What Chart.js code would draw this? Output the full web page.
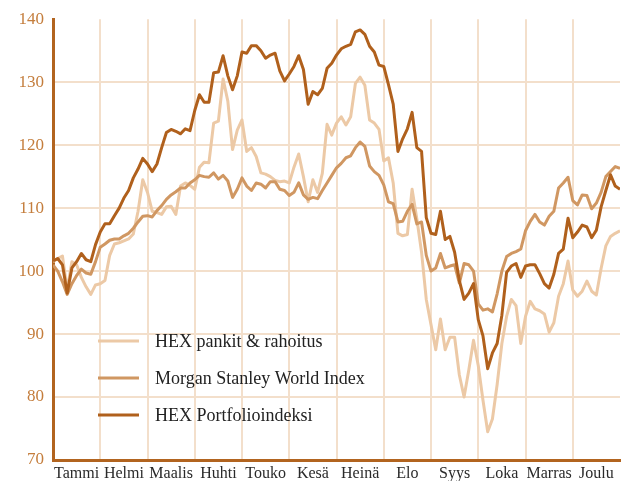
<!DOCTYPE html>
<html>
<head>
<meta charset="utf-8">
<script src="https://cdn.jsdelivr.net/npm/chart.js@4.4.1/dist/chart.umd.min.js"></script>
<style>
  body { margin: 0; background: #fff; }
</style>
</head>
<body>
<canvas id="chart" width="630" height="481"></canvas>
<script>
const months = ['Tammi', 'Helmi', 'Maalis', 'Huhti', 'Touko', 'Kesä', 'Heinä', 'Elo', 'Syys', 'Loka', 'Marras', 'Joulu'];
const yTicks = [70, 80, 90, 100, 110, 120, 130, 140];

// ~10 readings per month
const hexPankit = [
  101.5,102,102.4,97,101.5,101,99,97.5,96.3,97.8,
  98,98.5,102.5,104.3,104.5,104.8,105.1,105.9,109.5,114.5,
  112.5,109.5,109.3,109,110.2,110.3,109,113.5,114,113.6,
  113,116.5,117.3,117.2,123.5,123.8,130.5,127,119.3,122.4,
  124,119,119.6,118.2,115.6,115.4,115,114.4,114.2,114.3,
  114,116.5,118.6,115,111,114.5,112.5,115.5,123.3,121.6,
  123.5,124.5,123.2,124.5,129.8,130.8,129.5,124,123.5,122.5,
  117.5,118,114,106,105.6,105.8,113,108.3,103,95.5,
  91.5,87.5,92.4,87.5,89.5,89.5,83.5,80,84.3,89,
  85,79.5,74.5,76.5,82,88.5,92.8,95.5,94.5,88.5,
  92.8,95.2,94,93.7,93.2,90.3,91.8,96,98,101.6,
  97,96,96.8,98.4,96.8,96.2,100.4,104,105.5,106,
  106.4
];
const msWorld = [
  101,100,98.3,96.3,98,99.3,100.3,99.7,99.5,101.5,
  103.8,104.3,104.9,105.1,105.1,105.6,106,106.8,107.8,108.7,
  108.8,108.6,109.6,110.4,111.4,112.1,112.6,113.2,113.2,114,
  114.5,115.2,115,114.9,115.6,114.6,115.2,114.3,111.7,113,
  114.8,113.5,112.8,114,113.8,113.2,114.2,114.2,113,112.8,
  112,112.5,114,112.1,111.4,111.7,111.5,112.8,114,115.2,
  116.4,117.1,118,118.3,119.6,120.5,119.8,116.7,115.8,115.2,
  113.7,111,110.7,107.8,107.9,109.5,110.6,107.5,107.8,102.5,
  100,100.5,102.8,100.5,100.8,101,98.1,101.2,101,100,
  94.8,93.8,94,93.5,96.4,100,102.3,102.8,103.1,103.5,
  106.4,107.9,109,107.8,107.3,108.7,109.5,113.2,114,114.9,
  111.2,110.5,112.1,112,109.9,110.8,112.5,115,115.8,116.6,
  116.3
];
const hexPortfolio = [
  101.6,102,101,96.5,100.5,101.5,102.8,101.8,101.5,104.2,
  106.2,107.5,107.5,108.8,110,111.6,112.8,114.8,116.2,117.9,
  117,115.8,117,119.6,122,122.5,122.2,121.8,122.6,122.3,
  125.5,128,126.8,126.8,131.5,131.6,134.2,131,128.8,131,
  134.8,134.6,135.8,135.8,135,133.8,134.3,134.6,131.8,130.2,
  131.3,132.5,134.2,132,126.5,128.5,128,129,132.2,133,
  134.3,135.3,135.7,136,138,138.3,137.6,135.7,134.8,132.7,
  132.5,129.6,126.5,119,121,122.6,125.2,119.6,119,108.5,
  106,105.8,109.5,105,105.5,103,98.5,95.5,96.5,98,
  92.3,89.7,84.5,87,88.5,93,99.8,100.8,101.2,99,
  100.8,101,101,99.6,98,97.3,99.5,102.8,103.5,108.4,
  105.3,106.2,107.3,107,105.3,106.5,110.2,112.8,115.3,113.5,
  113
];

const perMonth = 10;
const lastX = months.length * perMonth;
const toPoints = arr => arr.map((v, i) => ({ x: i, y: v }));

const axisColor = '#b2641f';
const gridColor = '#f3dfcb';
const fontFamily = "'Liberation Serif', serif";

// legend drawn inside the plot, lower left
const insideLegend = {
  id: 'insideLegend',
  afterDatasetsDraw(chart) {
    const ctx = chart.ctx;
    const { left, bottom } = chart.chartArea;
    const items = [0, 1, 2].map(i => chart.data.datasets[i]);
    ctx.save();
    ctx.font = '18px ' + fontFamily;
    ctx.textBaseline = 'middle';
    items.forEach((ds, i) => {
      const y = bottom - 119 + i * 37;
      ctx.strokeStyle = ds.borderColor;
      ctx.lineWidth = 3;
      ctx.beginPath();
      ctx.moveTo(left + 45, y);
      ctx.lineTo(left + 86, y);
      ctx.stroke();
      ctx.fillStyle = '#222';
      ctx.fillText(ds.label, left + 102, y + 1);
    });
    ctx.restore();
  }
};

new Chart(document.getElementById('chart'), {
  type: 'line',
  data: {
    datasets: [
      { label: 'HEX pankit & rahoitus', data: toPoints(hexPankit), borderColor: '#ecc9a6', order: 3 },
      { label: 'Morgan Stanley World Index', data: toPoints(msWorld), borderColor: '#d09762', order: 2 },
      { label: 'HEX Portfolioindeksi', data: toPoints(hexPortfolio), borderColor: '#b0601c', order: 1 }
    ]
  },
  options: {
    responsive: false,
    animation: false,
    layout: { padding: { top: 11, right: 10, left: 0, bottom: 0 } },
    elements: {
      line: { borderWidth: 3, tension: 0, borderJoinStyle: 'round', fill: false },
      point: { radius: 0 }
    },
    scales: {
      x: {
        type: 'linear',
        min: 0,
        max: lastX,
        afterBuildTicks: scale => {
          const t = [];
          for (let v = 0; v <= lastX; v += perMonth / 2) t.push({ value: v });
          scale.ticks = t;
        },
        afterFit: scale => { scale.height = 21; },
        grid: {
          drawTicks: false,
          lineWidth: 2,
          color: c => {
            const v = c.tick ? c.tick.value : 0;
            return (v % perMonth === 0 && v > 0 && v < lastX) ? gridColor : 'transparent';
          }
        },
        border: { display: true, color: axisColor, width: 3 },
        ticks: {
          autoSkip: false,
          maxRotation: 0,
          padding: 4,
          color: '#2a2a2a',
          font: { family: fontFamily, size: 16 },
          callback: v => (v % perMonth === perMonth / 2) ? months[Math.floor(v / perMonth)] : ''
        }
      },
      y: {
        min: yTicks[0],
        max: yTicks[yTicks.length - 1],
        afterBuildTicks: scale => { scale.ticks = yTicks.map(v => ({ value: v })); },
        afterFit: scale => { scale.width = 53; },
        grid: {
          drawTicks: false,
          lineWidth: 2,
          color: c => (c.tick && c.tick.value === 140) ? 'transparent' : gridColor
        },
        border: { display: true, color: axisColor, width: 3 },
        ticks: {
          padding: 9,
          color: '#c47d3c',
          font: { family: fontFamily, size: 17 }
        }
      }
    },
    plugins: {
      legend: { display: false },
      tooltip: { enabled: false }
    }
  },
  plugins: [insideLegend]
});
</script>
</body>
</html>
